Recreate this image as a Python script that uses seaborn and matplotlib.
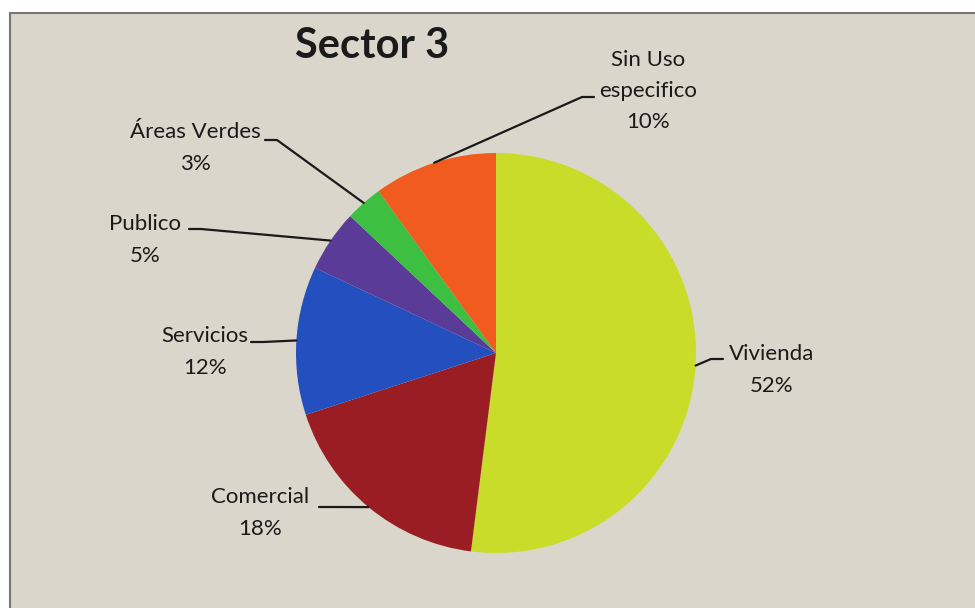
import numpy as np
import matplotlib
matplotlib.use('Agg')
import matplotlib.pyplot as plt
from matplotlib.patches import Rectangle
import seaborn as sns

categories = ['Vivienda', 'Comercial', 'Servicios', 'Publico', 'Áreas Verdes', 'Sin Uso\nespecifico']
shares = [52, 18, 12, 5, 3, 10]
colors = ['#c9dc2a', '#9a1d24', '#2450bf', '#5b3b98', '#3dbf42', '#f25b20']

# label block centers and leader anchor (image pixels, y down)
label_xy = [(772, 370), (260, 513), (205, 352), (145, 240), (195, 148), (648, 91)]
anchor_xy = [(723, 359), (319, 507), (251, 342), (189, 229), (265, 140), (594, 97)]
anchor_dir = [-1, 1, 1, 1, 1, -1]

W, H = 975, 608
bg = '#dbd6cc'

sns.set_style('white')
plt.rcParams['font.family'] = ['Lato', 'DejaVu Sans']

fig = plt.figure(figsize=(9.75, 6.08), dpi=100)
ax = fig.add_axes([0, 0, 1, 1])

ax.add_patch(Rectangle((10, -5), W, H - 13 + 5, facecolor=bg, edgecolor='#777777', linewidth=1.5, zorder=0))

cx, cy, r = 496, H - 353, 200
wedges, _ = ax.pie(shares, colors=colors, startangle=90, counterclock=False,
                   center=(cx, cy), radius=r, frame=True,
                   wedgeprops=dict(linewidth=0))
ax.set_xlim(0, W)
ax.set_ylim(0, H)
ax.axis('off')

for w, cat, val, (lx, ly), (axx, ayy), d in zip(wedges, categories, shares, label_xy, anchor_xy, anchor_dir):
    mid = np.deg2rad((w.theta1 + w.theta2) / 2)
    px, py = cx + r * np.cos(mid), cy + r * np.sin(mid)
    ay = H - ayy
    kx = axx + d * 12
    ax.plot([axx, kx, px], [ay, ay, py], color='#1a1a1a', linewidth=1.6, zorder=3)
    ax.text(lx, H - ly, f'{cat}\n{val}%', ha='center', va='center', fontsize=16,
            linespacing=1.7, color='#1a1a1a')

ax.text(372, H - 46, 'Sector 3', ha='center', va='center', fontsize=30,
        fontweight='bold', color='#1a1a1a')

fig.savefig('out.png', dpi=100)
